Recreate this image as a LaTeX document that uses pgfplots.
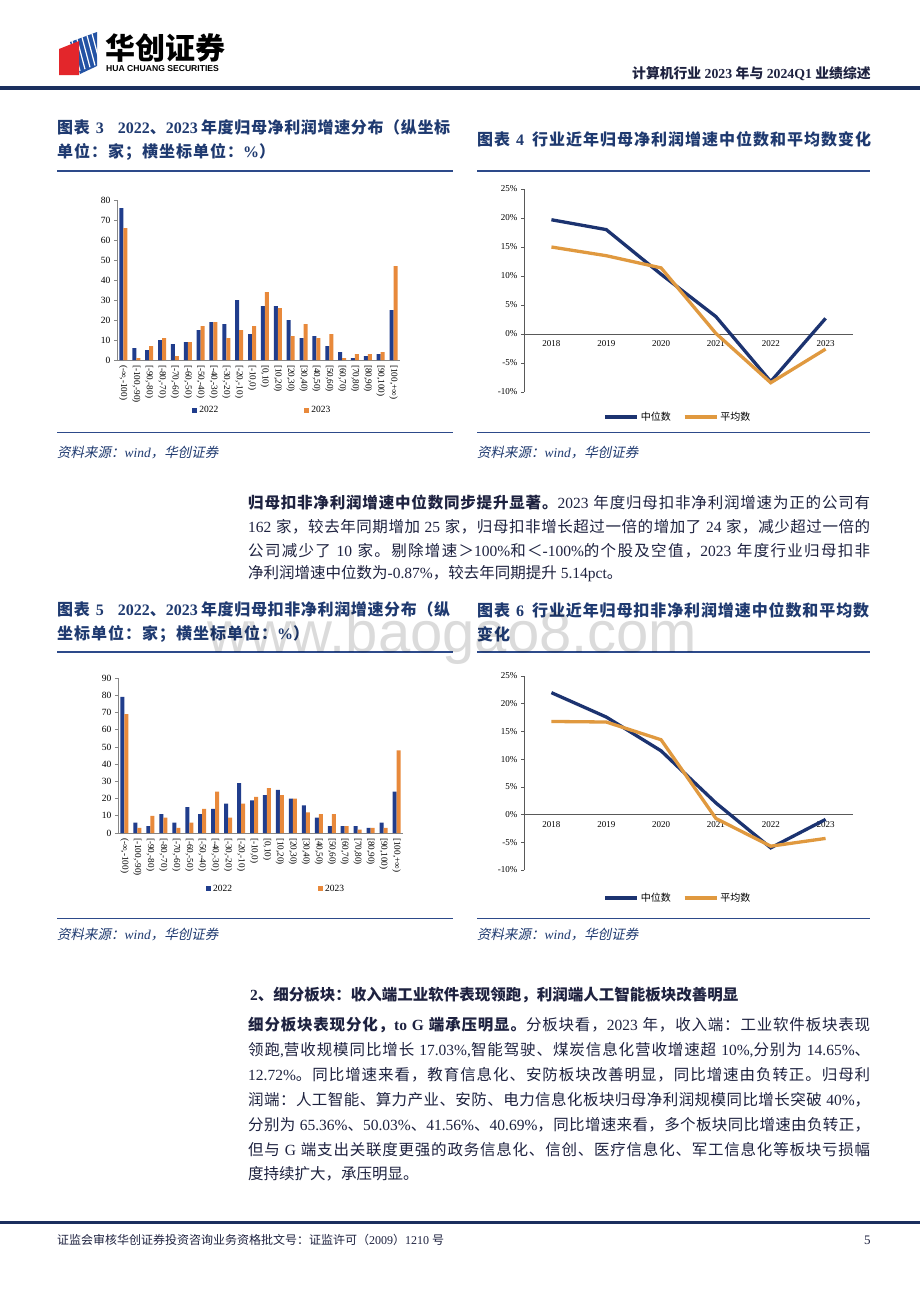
\documentclass[border=0pt]{standalone}
\usepackage{fontspec}
\usepackage{pgfplots}
\pgfplotsset{compat=1.18}
\setmainfont{Liberation Serif}
\newfontfamily\cjk{Noto Sans CJK SC}[ItalicFont={Noto Sans CJK SC},ItalicFeatures={FakeSlant=0.2}]
\newfontfamily\sansfont{Liberation Sans}
% automatic switch to CJK font
\XeTeXinterchartokenstate=1
\chardef\CJKcls=7
\newcount\cc
\def\setcjkrange#1#2{\cc=#1\relax\loop\XeTeXcharclass\cc=\CJKcls\relax\ifnum\cc<#2\advance\cc by 1\repeat}
\setcjkrange{"3000}{"303F}
\setcjkrange{"3400}{"9FFF}
\setcjkrange{"FF00}{"FFEF}
\newdimen\cjkgapd \cjkgapd=0pt
\XeTeXinterchartoks 0 \CJKcls = {\begingroup\cjk}
\XeTeXinterchartoks 4095 \CJKcls = {\begingroup\cjk}
\XeTeXinterchartoks \CJKcls 0 = {\endgroup}
\XeTeXinterchartoks \CJKcls 4095 = {\endgroup}
\XeTeXinterchartoks \CJKcls \CJKcls = {\hskip\cjkgapd plus 1.5pt minus 0.6pt\relax}

\definecolor{navyb}{HTML}{203D8C}
\definecolor{orangeb}{HTML}{E8893B}
\definecolor{navyl}{HTML}{1C3370}
\definecolor{orangel}{HTML}{E0993F}
\definecolor{titleblue}{HTML}{1F3A70}
\definecolor{bodytext}{HTML}{1E2240}
\definecolor{rulec}{HTML}{2D4A8A}
\definecolor{headrule}{HTML}{1B2F5E}
\definecolor{axisgray}{HTML}{868686}
\definecolor{axisdark}{HTML}{595959}
\definecolor{logored}{HTML}{E3262B}
\definecolor{logoblue}{HTML}{2453A4}

\newcommand\bodyfont{\fontsize{15.5}{18}\selectfont}
\newcommand\tfont{\bfseries\fontsize{16}{18}\selectfont\cjkgapd=1pt\relax}
\newcommand\bline[3]{\node[anchor=west,inner sep=0pt,text=bodytext,font=\bodyfont] at (#1,#2) {\hbox to 622pt{#3}};}
\newcommand\lline[3]{\node[anchor=west,inner sep=0pt,text=bodytext,font=\bodyfont] at (#1,#2) {#3};}
\newcommand\binlabels{{{(-∞,-100)}},{{[-100,-90)}},{{[-90,-80)}},{{[-80,-70)}},{{[-70,-60)}},{{[-60,-50)}},{{[-50,-40)}},{{[-40,-30)}},{{[-30,-20)}},{{[-20,-10)}},{{[-10,0)}},{{[0,10)}},{{[10,20)}},{{[20,30)}},{{[30,40)}},{{[40,50)}},{{[50,60)}},{{[60,70)}},{{[70,80)}},{{[80,90)}},{{[90,100)}},{{[100,+∞)}}}

\pgfplotsset{
  barchart/.style={
    scale only axis, anchor=south west,
    ybar=0pt, bar width=4pt,
    xmin=-0.5, xmax=21.5, ymin=0,
    axis x line*=bottom, axis y line*=left,
    axis line style={-, draw=axisgray, line width=0.8pt},
    xtick={0,...,21},
    tick align=outside, major tick length=3pt,
    xtick style={draw=none}, ytick style={draw=axisgray, line width=0.6pt},
    yticklabel style={font=\fontsize{9.5}{10}\selectfont, text=black},
    xticklabel style={font=\fontsize{9.2}{10}\selectfont, rotate=-90, anchor=west, text=black, inner sep=2pt},
    legend style={draw=none, fill=none, legend columns=2, font=\fontsize{9.5}{10}\selectfont,
      /tikz/every even column/.append style={column sep=84pt}},
  },
  linechart/.style={
    scale only axis, anchor=south west,
    xmin=-0.5, xmax=5.5, ymin=-10, ymax=25,
    axis x line*=middle, axis y line*=left,
    axis line style={-, draw=axisdark, line width=0.8pt},
    xtick={0,...,5}, xticklabels={2018,2019,2020,2021,2022,2023},
    ytick={-10,-5,...,25}, yticklabels={{-10\%},{-5\%},{0\%},{5\%},{10\%},{15\%},{20\%},{25\%}},
    hide obscured y ticks=false, hide obscured x ticks=false,
    tick align=outside, major tick length=3pt,
    xtick style={draw=none}, ytick style={draw=axisdark, line width=0.6pt},
    yticklabel style={font=\fontsize{9}{10}\selectfont, text=black},
    xticklabel style={font=\fontsize{9}{10}\selectfont, text=black},
    legend style={draw=none, fill=none, legend columns=2, anchor=center, font=\fontsize{10}{11}\selectfont,
      /tikz/every even column/.append style={column sep=10pt}},
    legend image code/.code={\draw[#1] (0pt,0pt) -- (32pt,0pt);},
  },
}

\begin{document}
\begin{tikzpicture}[x=1pt,y=-1pt]
\useasboundingbox (0,0) rectangle (920,1302);
\fill[white] (0,0) rectangle (920,1302);

% ---------- header ----------
\fill[logoblue] (70,42) -- (97,32) -- (97,66) -- (80,74) -- cycle;
\foreach \d in {0,5,10,15,20}{\draw[white,line width=1.2pt] (72+\d,41-0.37*\d) -- (72+\d+8,41-0.37*\d+30);}
\fill[logored] (59,49) -- (79,41) -- (79,75) -- (59,75) -- cycle;
\node[anchor=west,inner sep=0pt,font=\bfseries\fontsize{30}{32}\selectfont,text=black] at (105,48) {华创证券};
\node[anchor=west,inner sep=0pt,font=\sansfont\bfseries\fontsize{8.6}{9}\selectfont,text=black] at (106,69) {HUA CHUANG SECURITIES};
\node[anchor=west,inner sep=0pt,font=\bfseries\fontsize{13.8}{16}\selectfont,text=bodytext] at (632,74) {计算机行业 2023 年与 2024Q1 业绩综述};
\fill[headrule] (0,86) rectangle (920,90);

% ---------- titles ----------
\node[anchor=west,inner sep=0pt,font=\tfont,text=titleblue] at (57,127) {\hbox to 393pt{图表\hskip 6pt 3\hskip 14pt 2022、2023 年度归母净利润增速分布（纵坐标}};
\node[anchor=west,inner sep=0pt,font=\tfont,text=titleblue] at (57,152) {单位：家；横坐标单位：\%）};
\node[anchor=west,inner sep=0pt,font=\tfont,text=titleblue] at (477,139) {图表\hskip 6pt 4\hskip 8pt 行业近年归母净利润增速中位数和平均数变化};
\draw[rulec,line width=1.3pt] (57,171) -- (453,171);
\draw[rulec,line width=1.3pt] (477,171) -- (870,171);
\draw[rulec,line width=0.8pt] (57,432) -- (453,432);
\draw[rulec,line width=0.8pt] (477,432) -- (870,432);
\node[anchor=west,inner sep=0pt,font=\itshape\fontsize{13.5}{15}\selectfont,text=titleblue] at (57,453) {资料来源：wind，华创证券};
\node[anchor=west,inner sep=0pt,font=\itshape\fontsize{13.5}{15}\selectfont,text=titleblue] at (477,453) {资料来源：wind，华创证券};

% ---------- chart 3 ----------
\begin{axis}[barchart, at={(117pt,-360pt)}, width=283pt, height=160pt, ymax=80,
  ytick={0,10,...,80}, yticklabels={0,10,20,30,40,50,60,70,80},
  xticklabels/.expand once=\binlabels,
  legend style={at={(0.514,-0.3125)}, anchor=center}]
\addplot[fill=navyb, draw=none, legend image code/.code={\fill[navyb] (0pt,-2.5pt) rectangle (5pt,2.5pt);}] coordinates {
(0,76) (1,6) (2,5) (3,10) (4,8) (5,9) (6,15) (7,19) (8,18) (9,30) (10,13) (11,27) (12,27) (13,20) (14,11) (15,12) (16,7) (17,4) (18,1) (19,2) (20,3) (21,25)};
\addlegendentry{2022}
\addplot[fill=orangeb, draw=none, legend image code/.code={\fill[orangeb] (0pt,-2.5pt) rectangle (5pt,2.5pt);}] coordinates {
(0,66) (1,1) (2,7) (3,11) (4,2) (5,9) (6,17) (7,19) (8,11) (9,15) (10,17) (11,34) (12,26) (13,12) (14,18) (15,11) (16,13) (17,1) (18,3) (19,3) (20,4) (21,47)};
\addlegendentry{2023}
\end{axis}

% ---------- chart 4 ----------
\begin{axis}[linechart, at={(524pt,-392pt)}, width=329pt, height=203pt,
  legend style={at={(0.468,-0.123)}}]
\addplot[navyl, line width=3.3pt] coordinates {(0,19.7) (1,18.0) (2,10.3) (3,3.0) (4,-8.2) (5,2.7)};
\addlegendentry{中位数}
\addplot[orangel, line width=3.3pt] coordinates {(0,15.0) (1,13.5) (2,11.4) (3,0.1) (4,-8.4) (5,-2.6)};
\addlegendentry{平均数}
\end{axis}

% ---------- paragraph 1 ----------
\bline{248}{503}{{\bfseries 归母扣非净利润增速中位数同步提升显著。}2023 年度归母扣非净利润增速为正的公司有}
\bline{248}{527}{162 家，较去年同期增加 25 家，归母扣非增长超过一倍的增加了 24 家，减少超过一倍的}
\bline{248}{551}{公司减少了 10 家。剔除增速＞100\%和＜-100\%的个股及空值，2023 年度行业归母扣非}
\lline{248}{574}{净利润增速中位数为-0.87\%，较去年同期提升 5.14pct。}

% ---------- titles 5 / 6 ----------
\node[anchor=west,inner sep=0pt,font=\tfont,text=titleblue] at (57,609) {\hbox to 393pt{图表\hskip 6pt 5\hskip 14pt 2022、2023 年度归母扣非净利润增速分布（纵}};
\node[anchor=west,inner sep=0pt,font=\tfont,text=titleblue] at (57,634) {坐标单位：家；横坐标单位：\%）};
\node[anchor=west,inner sep=0pt,font=\tfont,text=titleblue] at (477,610) {\hbox to 392pt{图表\hskip 6pt 6\hskip 8pt 行业近年归母扣非净利润增速中位数和平均数}};
\node[anchor=west,inner sep=0pt,font=\tfont,text=titleblue] at (477,634) {变化};
\draw[rulec,line width=1.3pt] (57,652) -- (453,652);
\draw[rulec,line width=1.3pt] (477,652) -- (870,652);
\draw[rulec,line width=0.8pt] (57,918) -- (453,918);
\draw[rulec,line width=0.8pt] (477,918) -- (870,918);
\node[anchor=west,inner sep=0pt,font=\itshape\fontsize{13.5}{15}\selectfont,text=titleblue] at (57,935) {资料来源：wind，华创证券};
\node[anchor=west,inner sep=0pt,font=\itshape\fontsize{13.5}{15}\selectfont,text=titleblue] at (477,935) {资料来源：wind，华创证券};

% ---------- chart 5 ----------
\begin{axis}[barchart, at={(118pt,-833pt)}, width=285pt, height=155pt, ymax=90,
  ytick={0,10,...,90}, yticklabels={0,10,20,30,40,50,60,70,80,90},
  xticklabels/.expand once=\binlabels,
  legend style={at={(0.555,-0.361)}, anchor=center}]
\addplot[fill=navyb, draw=none, legend image code/.code={\fill[navyb] (0pt,-2.5pt) rectangle (5pt,2.5pt);}] coordinates {
(0,79) (1,6) (2,4) (3,11) (4,6) (5,15) (6,11) (7,14) (8,17) (9,29) (10,19) (11,22) (12,25) (13,20) (14,16) (15,9) (16,4) (17,4) (18,4) (19,3) (20,6) (21,24)};
\addlegendentry{2022}
\addplot[fill=orangeb, draw=none, legend image code/.code={\fill[orangeb] (0pt,-2.5pt) rectangle (5pt,2.5pt);}] coordinates {
(0,69) (1,3) (2,10) (3,9) (4,3) (5,6) (6,14) (7,24) (8,9) (9,17) (10,21) (11,26) (12,22) (13,20) (14,12) (15,11) (16,11) (17,4) (18,2) (19,3) (20,3) (21,48)};
\addlegendentry{2023}
\end{axis}

% ---------- chart 6 ----------
\begin{axis}[linechart, at={(524pt,-870pt)}, width=329pt, height=194pt,
  legend style={at={(0.468,-0.144)}}]
\addplot[navyl, line width=3.3pt] coordinates {(0,22.0) (1,17.6) (2,11.5) (3,2.1) (4,-6.0) (5,-0.87)};
\addlegendentry{中位数}
\addplot[orangel, line width=3.3pt] coordinates {(0,16.8) (1,16.7) (2,13.5) (3,-0.7) (4,-5.7) (5,-4.3)};
\addlegendentry{平均数}
\end{axis}

% ---------- section 2 ----------
\node[anchor=west,inner sep=0pt,font=\bfseries\fontsize{15.5}{18}\selectfont,text=bodytext] at (250,995) {2、细分板块：收入端工业软件表现领跑，利润端人工智能板块改善明显};
\bline{248}{1025}{{\bfseries 细分板块表现分化，to G 端承压明显。}分板块看，2023 年，收入端：工业软件板块表现}
\bline{248}{1050}{领跑,营收规模同比增长 17.03\%,智能驾驶、煤炭信息化营收增速超 10\%,分别为 14.65\%、}
\bline{248}{1075}{12.72\%。同比增速来看，教育信息化、安防板块改善明显，同比增速由负转正。归母利}
\bline{248}{1100}{润端：人工智能、算力产业、安防、电力信息化板块归母净利润规模同比增长突破 40\%，}
\bline{248}{1125}{分别为 65.36\%、50.03\%、41.56\%、40.69\%，同比增速来看，多个板块同比增速由负转正，}
\bline{248}{1150}{但与 G 端支出关联度更强的政务信息化、信创、医疗信息化、军工信息化等板块亏损幅}
\lline{248}{1174}{度持续扩大，承压明显。}

% ---------- footer ----------
\fill[headrule] (0,1220.5) rectangle (920,1223.5);
\node[anchor=west,inner sep=0pt,font=\fontsize{12}{14}\selectfont,text=bodytext] at (57,1240) {证监会审核华创证券投资咨询业务资格批文号：证监许可（2009）1210 号};
\node[anchor=west,inner sep=0pt,font=\fontsize{13}{14}\selectfont,text=bodytext] at (864,1240) {5};

% ---------- watermark ----------
\node[anchor=base west,inner sep=0pt,font=\sansfont\fontsize{58}{60}\selectfont,text=black,opacity=0.14] at (207,652) {www.baogao8.com};
\end{tikzpicture}
\end{document}
